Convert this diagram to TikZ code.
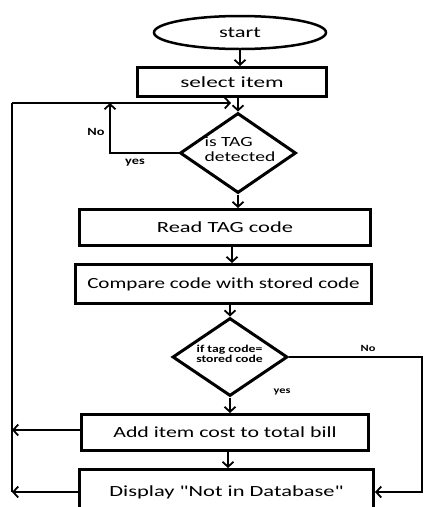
\documentclass[tikz,border=0pt]{standalone}
\usepackage{fontspec}
\setmainfont{Carlito}[Ligatures=TeXOff]
\usepackage{graphicx}
\usetikzlibrary{shapes.geometric,arrows.meta}
\newcommand{\sx}[2]{\scalebox{#1}[1]{#2}}
\tikzset{
  box/.style={draw, rectangle, line width=3pt, inner sep=0pt, font=\fontsize{15.5}{18}\selectfont},
  term/.style={draw, ellipse, line width=2.5pt, inner sep=0pt, font=\fontsize{15.5}{18}\selectfont},
  dec/.style={draw, diamond, line width=3pt, inner sep=0pt},
  wire/.style={line width=2.2pt},
  arr/.style={wire, -{Straight Barb[length=5pt,width=11pt,line width=1.8pt]}},
  lab/.style={inner sep=0pt, font=\fontsize{11}{13}\bfseries\selectfont},
  slab/.style={inner sep=0pt, font=\fontsize{9.5}{11}\bfseries\selectfont}
}
\begin{document}
\begin{tikzpicture}[x=1pt,y=-1pt]
\useasboundingbox[fill=white] (0,0) rectangle (424,507);
% nodes
\node[term, minimum width=172, minimum height=33] (start) at (240,32.5) {\sx{1.45}{start}};
\node[box, minimum width=189, minimum height=29] (sel) at (232,82) {\sx{1.5}{select item}};
\node[dec, minimum width=116, minimum height=80] (d1) at (238,153) {};
\node[align=left, inner sep=0pt, font=\fontsize{14}{15}\selectfont] (t1) at (240,149) {\sx{1.4}{is TAG}\\ \sx{1.4}{detected}};
\node[box, minimum width=291, minimum height=36] (read) at (225,227.5) {\sx{1.45}{Read TAG code}};
\node[box, minimum width=296, minimum height=39] (cmp) at (223.5,284) {\sx{1.36}{Compare code with stored code}};
\node[dec, minimum width=115, minimum height=78] (d2) at (230,357) {};
\node[align=center, inner sep=0pt, font=\fontsize{10.5}{10.5}\bfseries\selectfont] (t2) at (229.5,354) {\sx{1.3}{if tag code=}\\ \sx{1.3}{stored code}};
\node[box, minimum width=287, minimum height=36] (add) at (225,432.5) {\sx{1.41}{Add item cost to total bill}};
\node[box, minimum width=294, minimum height=45] (disp) at (226.5,492) {\raisebox{2pt}{\sx{1.45}{Display "Not in Database"}}};
% labels
\node[lab] (no1) at (96,132) {\sx{1.3}{No}};
\node[lab] (yes1) at (135,163) {\sx{1.3}{yes}};
\node[slab] (no2) at (368,348) {\sx{1.3}{No}};
\node[slab] (yes2) at (282,392) {\sx{1.3}{yes}};
% coordinates
\coordinate (tl) at (12,103);
\coordinate (tr) at (231,103);
\coordinate (nl) at (110,103);
\coordinate (rr) at (422,357);
% connectors
\draw[arr] (start.south) -- (start.south |- sel.north);
\draw[arr] (d1.north |- sel.south) -- (d1.north);
\draw[arr] (tl) -- (tr);
\draw[arr] (d1.west) -| (nl);
\draw[wire] (tl) -- (tl |- disp.west);
\draw[arr] (d1.south) -- (d1.south |- read.north);
\draw[arr] ([xshift=7pt]read.south) -- ([xshift=7pt]read.south |- cmp.north);
\draw[arr] (d2.north |- cmp.south) -- (d2.north);
\draw[arr] (d2.south) -- (d2.south |- add.north);
\draw[arr] ([xshift=3pt]add.south) -- ([xshift=3pt]add.south |- disp.north);
\draw[arr] ([yshift=2.5pt]add.west) -- ([yshift=2.5pt]add.west -| tl);
\draw[arr] (disp.west) -- (disp.west -| tl);
\draw[arr] (d2.east) -- (rr) -- (rr |- disp.east) -- (disp.east);
\end{tikzpicture}
\end{document}
